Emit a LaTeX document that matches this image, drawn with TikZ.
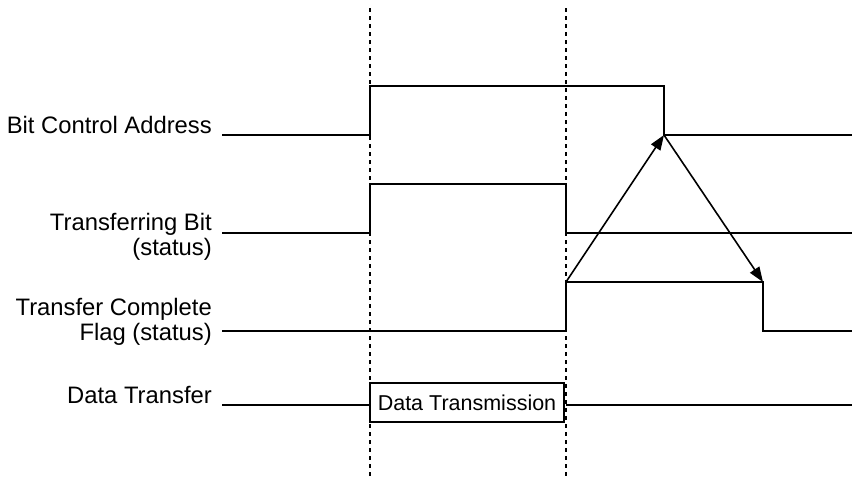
\documentclass[tikz,border=0pt]{standalone}
\usepackage{fontspec}
\setmainfont{Liberation Sans}
\usetikzlibrary{positioning,arrows.meta}
\tikzset{
  sig/.style   ={line width=1.9pt, line join=miter},
  guide/.style ={line width=1.5pt, dash pattern=on 4pt off 4pt},
  lbl/.style   ={font=\fontsize{23.8}{25}\selectfont, align=right, anchor=base east, inner sep=0pt},
  dbox/.style  ={draw, line width=1.9pt, fill=white, font=\fontsize{21.5}{24}\selectfont,
                 minimum width=194pt, minimum height=39pt, inner sep=0pt},
  cause/.style ={-{Triangle[length=15pt,width=11pt]}, line width=1.6pt},
}
\begin{document}
\begin{tikzpicture}[x=1pt,y=-1pt]
  \useasboundingbox (0,0) rectangle (852,480);
  % timing guides
  \draw[guide] (370,8) -- (370,478);
  \draw[guide] (566,8) -- (566,478);
  % signal names
  \node[lbl](bca) at (212,133){Bit Control Address};
  \node[lbl](tb)  at (212,255){Transferring Bit\\(status)};
  \node[lbl](tcf) at (212,340){Transfer Complete\\Flag (status)};
  \node[lbl](dt)  at (212,403){Data Transfer};
  % edges
  \coordinate (bcafall) at (664,135);
  \coordinate (tcfrise) at (566,282);
  \coordinate (tcffall) at (763,282);
  % waveforms
  \draw[sig] (222,135) -- (370,135) -- (370,86) -- (664,86) -- (bcafall) -- (852,135);
  \draw[sig] (222,233) -- (370,233) -- (370,184) -- (566,184) -- (566,233) -- (852,233);
  \draw[sig] (222,331) -- (566,331) -- (tcfrise) -- (tcffall) -- (763,331) -- (852,331);
  \node[dbox](xmit) at (467,402.5){Data Transmission};
  \draw[sig] (222,405) -- (xmit.west |- 0,405);
  \draw[sig] (566,405) -- (852,405);
  % handshake
  \draw[cause] (tcfrise) -- (bcafall);
  \draw[cause] (bcafall) -- (tcffall);
\end{tikzpicture}
\end{document}
